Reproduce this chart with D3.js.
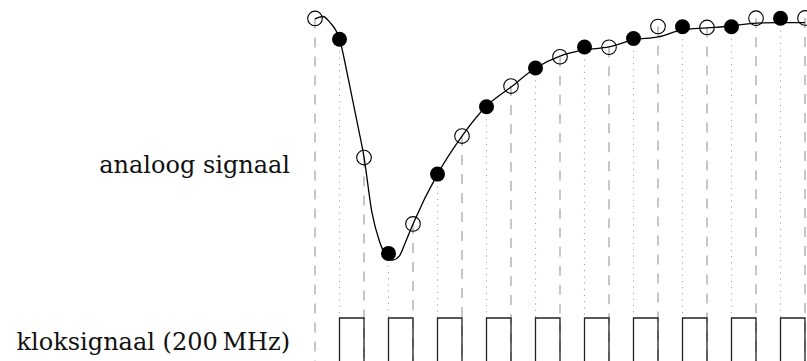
<!DOCTYPE html>
<html>
<head>
<meta charset="utf-8">
<script src="https://cdn.jsdelivr.net/npm/d3@7"></script>
<style>
	body { margin: 0; background: #fff; }
	svg { display: block; }
	.label { font-family: "DejaVu Serif", serif; font-size: 24px; fill: #111; }
</style>
</head>
<body>
<script>
// Sample moments (ns), one every half clock period of the 200 MHz clock
const sampleTimes = [0, 2.5, 5, 7.5, 10, 12.5, 15, 17.5, 20, 22.5, 25,
	27.5, 30, 32.5, 35, 37.5, 40, 42.5, 45, 47.5, 50];
// Sampled level of the signal (0..1)
const sampleValues = [0.99, 0.905, 0.42, 0.027, 0.148, 0.352, 0.508, 0.628, 0.713, 0.787, 0.833,
	0.873, 0.872, 0.908, 0.957, 0.956, 0.953, 0.956, 0.991, 0.991, 0.992];

// Analog signal
const curveTimes = [0, 0.8, 1.5, 2.5, 3.4, 4.4, 5, 5.8, 6.6, 7.3, 7.9, 8.6, 9.2, 10,
	12.5, 15, 17.5, 20, 22.5, 25, 27.5, 30, 32.5, 35, 37.5, 40, 42.5, 45, 47.5, 50];
const curveValues = [0.988, 0.998, 0.975, 0.906, 0.742, 0.545, 0.422, 0.197, 0.074, 0.016, 0.0, 0.016, 0.07, 0.148,
	0.352, 0.508, 0.631, 0.709, 0.787, 0.836, 0.861, 0.873, 0.902, 0.914, 0.943, 0.951, 0.959, 0.971, 0.973, 0.973];

// Clock edges: level after each edge
const clockTimes = [0, 2.5, 5, 7.5, 10, 12.5, 15, 17.5, 20, 22.5, 25,
	27.5, 30, 32.5, 35, 37.5, 40, 42.5, 45, 47.5, 50];
const clockLevels = [0, 1, 0, 1, 0, 1, 0, 1, 0, 1, 0,
	1, 0, 1, 0, 1, 0, 1, 0, 1, 0];

const rowLabels = ["analoog signaal", "kloksignaal (200\u2009MHz)"];

const width = 807, height = 361;

let svg = d3.select("body")
	.append("svg")
	.attr("width", width)
	.attr("height", height);

svg.append("rect").attr("width", width).attr("height", height).attr("fill", "#fff");

// Scales
let x = d3.scaleLinear().domain([0, 50]).range([315, 805]);
let y = d3.scaleLinear().domain([0, 1]).range([260, 16]);
let clockY = d3.scaleLinear().domain([0, 1]).range([390, 318]);

let samples = sampleTimes.map(function(t, i) {
	return { t: t, v: sampleValues[i], filled: i % 2 === 1 };
});

// Dashed lines at falling edges, dotted lines at rising edges
svg.selectAll("line.guide")
	.data(samples)
	.enter()
	.append("line")
	.attr("class", "guide")
	.attr("x1", function(d) { return x(d.t); })
	.attr("x2", function(d) { return x(d.t); })
	.attr("y1", function(d) { return y(d.v); })
	.attr("y2", function(d) { return d.filled ? clockY(1) : height; })
	.attr("stroke", function(d) { return d.filled ? "#9a9a9a" : "#a8a8a8"; })
	.attr("stroke-width", function(d) { return d.filled ? 1.1 : 1.3; })
	.attr("stroke-dasharray", function(d) { return d.filled ? "1,5.2" : "10,9"; });

// Clock signal
let clockLine = d3.line()
	.x(function(d) { return x(d[0]); })
	.y(function(d) { return clockY(d[1]); })
	.curve(d3.curveStepAfter);

svg.append("path")
	.datum(d3.zip(clockTimes, clockLevels))
	.attr("d", clockLine)
	.attr("fill", "none")
	.attr("stroke", "#222")
	.attr("stroke-width", 1.3);

// Analog signal
let signalLine = d3.line()
	.x(function(d) { return x(d[0]); })
	.y(function(d) { return y(d[1]); })
	.curve(d3.curveMonotoneX);

svg.append("path")
	.datum(d3.zip(curveTimes, curveValues))
	.attr("d", signalLine)
	.attr("fill", "none")
	.attr("stroke", "#000")
	.attr("stroke-width", 1.3);

// Sample points
svg.selectAll("circle")
	.data(samples)
	.enter()
	.append("circle")
	.attr("cx", function(d) { return x(d.t); })
	.attr("cy", function(d) { return y(d.v); })
	.attr("r", function(d) { return d.filled ? 7.5 : 7.3; })
	.attr("fill", function(d) { return d.filled ? "#000" : "none"; })
	.attr("stroke", "#000")
	.attr("stroke-width", function(d) { return d.filled ? 0 : 1.1; });

// Row labels
svg.selectAll("text")
	.data(rowLabels)
	.enter()
	.append("text")
	.attr("class", "label")
	.attr("x", 290)
	.attr("y", function(d, i) { return i === 0 ? 173 : 350; })
	.attr("text-anchor", "end")
	.text(function(d) { return d; });
</script>
</body>
</html>
